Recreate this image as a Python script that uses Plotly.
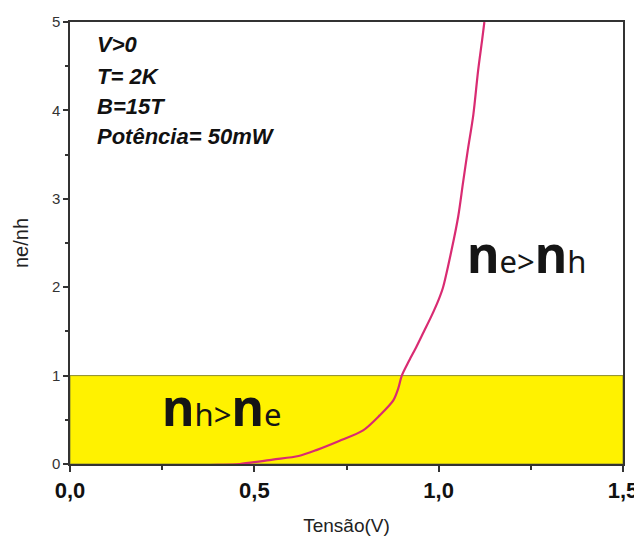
import plotly.graph_objects as go

# Data
tensao = [0.20, 0.30, 0.40, 0.46, 0.55, 0.62, 0.67, 0.73, 0.795, 0.84, 0.877, 0.89, 0.90,
          0.92, 0.94, 0.96, 0.98, 1.00, 1.012, 1.035, 1.053, 1.066, 1.079, 1.094, 1.107, 1.118, 1.124]
ne_nh = [-0.02, -0.02, -0.01, 0.0, 0.05, 0.09, 0.16, 0.26, 0.38, 0.55, 0.72, 0.85, 1.00,
         1.17, 1.33, 1.50, 1.67, 1.86, 2.0, 2.42, 2.80, 3.18, 3.55, 3.95, 4.45, 4.80, 5.0]

band_y0, band_y1 = 0, 1
x_ticks = [0.0, 0.5, 1.0, 1.5]
x_tick_text = ["0,0", "0,5", "1,0", "1,5"]
y_ticks = [0, 1, 2, 3, 4, 5]
info_lines = ["V>0", "T= 2K", "B=15T", "Potência= 50mW"]

fig = go.Figure()
fig.add_trace(go.Scatter(x=tensao, y=ne_nh, mode="lines",
                         line=dict(color="#d92b72", width=2.2, shape="spline", smoothing=0.8),
                         showlegend=False, hoverinfo="skip"))

fig.add_shape(type="rect", xref="x domain", yref="y", x0=0, x1=1, y0=band_y0, y1=band_y1,
              fillcolor="#fff200", line=dict(color="#8c8c30", width=1), layer="below")

info_y = [0.948, 0.876, 0.808, 0.740]
for t, yy in zip(info_lines, info_y):
    fig.add_annotation(xref="paper", yref="paper", x=0.045, y=yy,
                       text="<b><i>" + t + "</i></b>", showarrow=False, xanchor="left",
                       yanchor="middle",
                       font=dict(family="Liberation Sans", size=22, color="#111"))

hand = "Noto Sans"
def hand_label(a, b, c, d):
    s = ("<b><span style='font-size:50px'>%s</span></b>%s&gt;"
         "<b><span style='font-size:50px'>%s</span></b>%s")
    return s % (a, b, c, d)

fig.add_annotation(xref="x", yref="y", x=0.41, y=0.64, text=hand_label("n", "h", "n", "e"),
                   showarrow=False, font=dict(family=hand, size=31, color="#151515"))
fig.add_annotation(xref="x", yref="y", x=1.237, y=2.38, text=hand_label("n", "e", "n", "h"),
                   showarrow=False, font=dict(family=hand, size=31, color="#151515"))

fig.update_xaxes(range=[0, 1.5], tickvals=x_ticks, ticktext=x_tick_text, automargin=False,
                 tickfont=dict(family="Liberation Sans", size=22, color="#111", weight="bold"),
                 ticks="outside", ticklen=6, tickcolor="#333", tickwidth=1.5,
                 minor=dict(dtick=0.25, tick0=0, ticks="outside", ticklen=4, tickcolor="#333"),
                 showline=True, linecolor="#333", linewidth=1.5, mirror=True, showgrid=False,
                 zeroline=False,
                 title=dict(text="Tensão(V)", font=dict(family="Liberation Sans", size=19, color="#222"),
                            standoff=17))
fig.update_yaxes(range=[0, 5], tickvals=y_ticks, automargin=False,
                 tickfont=dict(family="Liberation Sans", size=15, color="#333"),
                 ticks="outside", ticklen=5, tickcolor="#333", tickwidth=1.5,
                 minor=dict(dtick=0.5, tick0=0, ticks="outside", ticklen=3, tickcolor="#333"),
                 showline=True, linecolor="#333", linewidth=1.5, mirror=True, showgrid=False,
                 zeroline=False,
                 title=dict(text="ne/nh", font=dict(family="Liberation Sans", size=20, color="#222"),
                            standoff=18))

# page body has an 8px margin: shrink the figure so it fills the 642x545 window
fig.update_layout(width=634, height=537, margin=dict(l=62, r=19, t=14, b=81),
                  plot_bgcolor="white", paper_bgcolor="white")

fig.write_html("out.html")
